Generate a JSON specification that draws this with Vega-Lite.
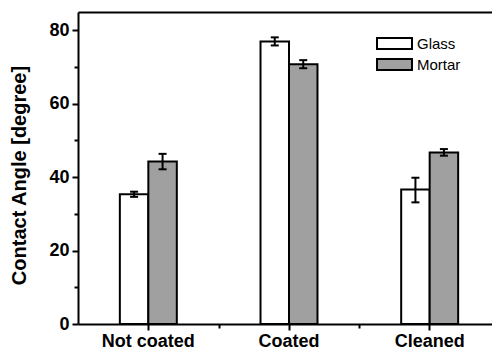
{
  "$schema": "https://vega.github.io/schema/vega-lite/v6.json",
  "width": 414,
  "height": 312,
  "autosize": {"type": "none"},
  "padding": {"left": 78, "top": 12, "right": 0, "bottom": 28},
  "background": "white",
  "config": {"view": {"stroke": null}, "font": "Liberation Sans"},
  "data": {
    "values": [
      {"condition": "Not coated", "substrate": "Glass", "angle": 35.3, "lo": 34.6, "hi": 36.0},
      {"condition": "Not coated", "substrate": "Mortar", "angle": 44.2, "lo": 42.1, "hi": 46.3},
      {"condition": "Coated", "substrate": "Glass", "angle": 76.9, "lo": 75.8, "hi": 78.0},
      {"condition": "Coated", "substrate": "Mortar", "angle": 70.7, "lo": 69.6, "hi": 71.8},
      {"condition": "Cleaned", "substrate": "Glass", "angle": 36.6, "lo": 33.1, "hi": 39.8},
      {"condition": "Cleaned", "substrate": "Mortar", "angle": 46.7, "lo": 45.8, "hi": 47.6}
    ]
  },
  "layer": [
    {
      "mark": {"type": "bar", "stroke": "black", "strokeWidth": 2, "opacity": 1},
      "encoding": {
        "x": {
          "field": "condition", "type": "nominal",
          "sort": ["Not coated", "Coated", "Cleaned"],
          "scale": {"range": [0, 422], "paddingInner": 0.595, "paddingOuter": 0.2975},
          "axis": {
            "orient": "bottom", "title": null, "labelAngle": 0,
            "tickSize": 6, "tickWidth": 2, "tickColor": "black",
            "domainWidth": 2, "domainColor": "black",
            "labelFont": "Liberation Sans", "labelFontSize": 18, "labelFontWeight": "bold",
            "labelColor": "black", "labelPadding": 2, "grid": false
          }
        },
        "xOffset": {
          "field": "substrate", "type": "nominal",
          "scale": {"domain": ["Glass", "Mortar"], "paddingInner": 0, "paddingOuter": 0}
        },
        "y": {
          "field": "angle", "type": "quantitative",
          "scale": {"domain": [0, 84.9], "nice": false, "zero": true},
          "axis": {
            "orient": "left", "values": [0, 10, 20, 30, 40, 50, 60, 70, 80],
            "labelExpr": "datum.value % 20 === 0 ? datum.label : ''",
            "tickSize": {"condition": {"test": "datum.value % 20 === 0", "value": 6}, "value": 4},
            "tickWidth": 2, "tickColor": "black",
            "domainWidth": 2, "domainColor": "black",
            "labelFont": "Liberation Sans", "labelFontSize": 18, "labelFontWeight": "bold",
            "labelColor": "black", "labelPadding": 3, "grid": false,
            "title": "Contact Angle [degree]",
            "titleFont": "Liberation Sans", "titleFontSize": 20, "titleFontWeight": "bold",
            "titleColor": "black", "titleAngle": -90, "titleAlign": "center",
            "titleBaseline": "middle", "titleX": -59, "titleY": 163
          }
        },
        "fill": {
          "field": "substrate", "type": "nominal",
          "scale": {"domain": ["Glass", "Mortar"], "range": ["white", "#a0a0a0"]},
          "legend": {
            "orient": "none", "legendX": 309, "legendY": 24, "title": null,
            "symbolType": "M-3.18,-1H3.18V1H-3.18Z", "symbolSize": 121,
            "symbolStrokeColor": "black", "symbolStrokeWidth": 2, "symbolOpacity": 1,
            "labelFont": "Liberation Sans", "labelFontSize": 15, "labelColor": "black",
            "labelOffset": 15, "rowPadding": 2,
            "labelExpr": "datum.label == 'Mortar' ? '\u00a0Mortar' : datum.label"
          }
        }
      }
    },
    {
      "mark": {"type": "rule", "strokeWidth": 2, "color": "black"},
      "encoding": {
        "x": {
          "field": "condition", "type": "nominal",
          "sort": ["Not coated", "Coated", "Cleaned"],
          "axis": {
            "orient": "bottom", "title": null, "labels": false, "domain": false,
            "values": ["Not coated", "Coated"], "tickOffset": 70.33,
            "tickSize": 4, "tickWidth": 2, "tickColor": "black", "grid": false
          }
        },
        "xOffset": {"field": "substrate", "type": "nominal"},
        "y": {"field": "lo", "type": "quantitative", "axis": null},
        "y2": {"field": "hi"}
      }
    },
    {
      "mark": {"type": "tick", "orient": "horizontal", "size": 8, "thickness": 2, "color": "black", "opacity": 1},
      "encoding": {
        "x": {
          "field": "condition", "type": "nominal",
          "sort": ["Not coated", "Coated", "Cleaned"],
          "axis": {
            "orient": "top", "title": null, "labels": false, "ticks": false,
            "domain": true, "domainWidth": 2, "domainColor": "black", "grid": false
          }
        },
        "xOffset": {"field": "substrate", "type": "nominal"},
        "y": {"field": "lo", "type": "quantitative", "axis": null}
      }
    },
    {
      "mark": {"type": "tick", "orient": "horizontal", "size": 8, "thickness": 2, "color": "black", "opacity": 1},
      "encoding": {
        "x": {"field": "condition", "type": "nominal", "sort": ["Not coated", "Coated", "Cleaned"], "axis": null},
        "xOffset": {"field": "substrate", "type": "nominal"},
        "y": {"field": "hi", "type": "quantitative", "axis": null}
      }
    }
  ],
  "resolve": {"axis": {"x": "independent", "y": "independent"}}
}
